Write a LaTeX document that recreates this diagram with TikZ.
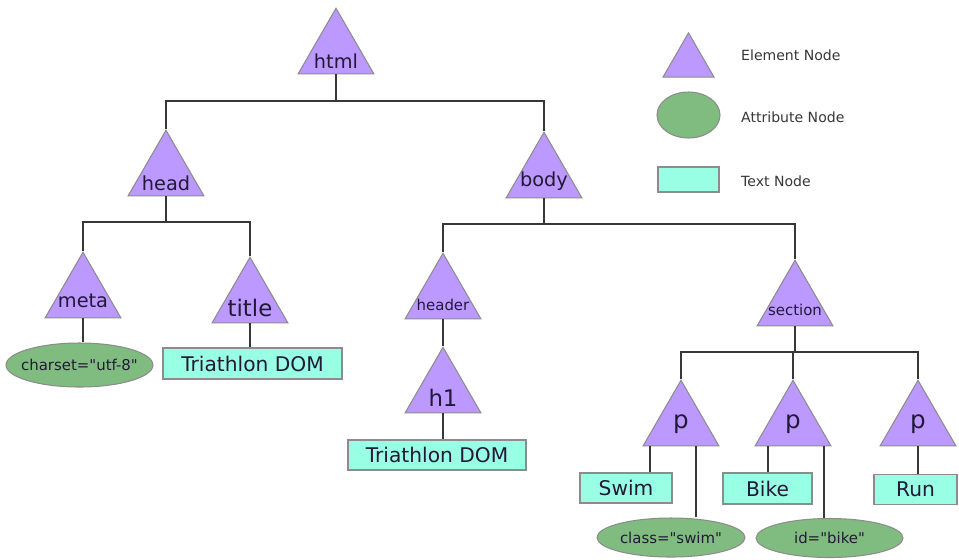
\documentclass[tikz,border=0pt]{standalone}
\usepackage{fontspec}
\setmainfont{DejaVu Sans}
\usetikzlibrary{shapes.geometric}
\definecolor{elemfill}{RGB}{187,153,255}
\definecolor{attrfill}{RGB}{128,188,128}
\definecolor{textfill}{RGB}{153,255,228}
\definecolor{edgegray}{RGB}{140,140,140}
\definecolor{wirecol}{RGB}{55,55,55}
\definecolor{labelcol}{RGB}{35,25,55}
\tikzset{
  elem/.style={regular polygon, regular polygon sides=3, minimum size=1.75cm, inner sep=0pt, fill=elemfill, draw=edgegray, line width=0.6pt},
  attr/.style={ellipse, fill=attrfill, draw=edgegray, line width=0.6pt, inner sep=0pt, text=labelcol, font=\fontsize{8.5}{10}\selectfont},
  txt/.style={rectangle, fill=textfill, draw=edgegray, line width=0.6pt, inner sep=0pt, text=labelcol, font=\fontsize{11.5}{13}\selectfont},
  elabel/.style={anchor=base, text=labelcol},
  legtext/.style={anchor=west, text=wirecol, font=\fontsize{8}{10}\selectfont},
  wire/.style={draw=wirecol, line width=1.1pt},
}
\begin{document}
\begin{tikzpicture}[x=0.02cm, y=-0.02cm]
  \useasboundingbox (0,0) rectangle (959,559);

  \node[elem, label={[elabel, yshift=-0.18cm, font=\fontsize{11}{13}\selectfont]center:html}] (html) at (336,52) {};
  \node[elem, label={[elabel, yshift=-0.18cm, font=\fontsize{11}{13}\selectfont]center:head}] (head) at (166,174) {};
  \node[elem, label={[elabel, yshift=-0.10cm, font=\fontsize{11}{13}\selectfont]center:body}] (body) at (544,176) {};
  \node[elem, label={[elabel, yshift=-0.10cm, font=\fontsize{11}{13}\selectfont]center:meta}] (meta) at (83,296) {};
  \node[elem, label={[elabel, yshift=-0.14cm, font=\fontsize{13}{15}\selectfont]center:title}] (title) at (250,301) {};
  \node[elem, label={[elabel, yshift=-0.16cm, font=\fontsize{8.5}{10}\selectfont]center:header}] (header) at (443,297) {};
  \node[elem, label={[elabel, yshift=-0.14cm, font=\fontsize{13}{15}\selectfont]center:h1}] (h1) at (443,391) {};
  \node[elem, label={[elabel, yshift=-0.12cm, font=\fontsize{8.5}{10}\selectfont]center:section}] (section) at (795,304) {};
  \node[elem, label={[elabel, yshift=0cm, font=\fontsize{14}{16}\selectfont]center:p}] (pa) at (681,424) {};
  \node[elem, label={[elabel, yshift=0cm, font=\fontsize{14}{16}\selectfont]center:p}] (pb) at (793,424) {};
  \node[elem, label={[elabel, yshift=0cm, font=\fontsize{14}{16}\selectfont]center:p}] (pc) at (918,424) {};

  \node[attr, inner xsep=-5pt, minimum width=2.94cm, minimum height=0.88cm] (charset) at (79.5,365) {charset=\textquotedbl utf-8\textquotedbl};
  \node[txt, minimum width=3.58cm, minimum height=0.62cm] (titletxt) at (252.5,363.5) {Triathlon DOM};
  \node[txt, minimum width=3.56cm, minimum height=0.60cm] (h1txt) at (437,455) {Triathlon DOM};
  \node[txt, minimum width=1.84cm, minimum height=0.60cm] (swim) at (626,488) {Swim};
  \node[txt, minimum width=1.78cm, minimum height=0.62cm] (bike) at (767.5,488.5) {Bike};
  \node[txt, minimum width=1.66cm, minimum height=0.60cm] (run) at (915.5,489.5) {Run};
  \node[attr, minimum width=2.96cm, minimum height=0.78cm] (swimattr) at (671,537.5) {class=\textquotedbl swim\textquotedbl};
  \node[attr, minimum width=2.94cm, minimum height=0.78cm] (bikeattr) at (829.5,538) {id=\textquotedbl bike\textquotedbl};

  \coordinate (htmlbus) at (336,101);
  \coordinate (headbus) at (166,222);
  \coordinate (bodybus) at (544,224);
  \coordinate (secbus) at (795,352);
  \draw[wire] (html.south) -- (htmlbus);
  \draw[wire] (head.north) |- (htmlbus) -| (body.north);
  \draw[wire] (head.south) -- (headbus);
  \draw[wire] (meta.north) |- (headbus) -| (title.north);
  \draw[wire] (body.south) -- (bodybus);
  \draw[wire] (header.north) |- (bodybus) -| (section.north);
  \draw[wire] (meta.south) -- (meta.south |- charset.north);
  \draw[wire] (title.south) -- (title.south |- titletxt.north);
  \draw[wire, line width=1.6pt] (header.south) -- (h1.north);
  \draw[wire] (h1.south) -- (h1.south |- h1txt.north);
  \draw[wire] (section.south) -- (secbus);
  \draw[wire] (pa.north) |- (secbus) -| (pc.north);
  \draw[wire] (pb.north) -- (pb.north |- secbus);
  \coordinate (pa1) at ([xshift=-0.62cm]pa.south);
  \coordinate (pa2) at ([xshift=0.30cm]pa.south);
  \coordinate (pb1) at ([xshift=-0.50cm]pb.south);
  \coordinate (pb2) at ([xshift=0.62cm]pb.south);
  \draw[wire] (pa1) -- (pa1 |- swim.north);
  \draw[wire] (pa2) -- (pa2 |- swimattr.north);
  \draw[wire] (pb1) -- (pb1 |- bike.north);
  \draw[wire] (pb2) -- (pb2 |- bikeattr.north);
  \draw[wire] (pc.south) -- (pc.south |- run.north);

  \node[elem, minimum size=1.18cm] (legelem) at (688.5,62.4) {};
  \node[attr, minimum width=1.26cm, minimum height=0.92cm] (legattr) at (688.5,115) {};
  \node[txt, minimum width=1.22cm, minimum height=0.50cm] (legtxt) at (688.5,179.5) {};
  \node[legtext] (legelemtext) at (735,55) {Element Node};
  \node[legtext] (legattrtext) at (735,117) {Attribute Node};
  \node[legtext] (legtxttext) at (735,181) {Text Node};
\end{tikzpicture}
\end{document}
